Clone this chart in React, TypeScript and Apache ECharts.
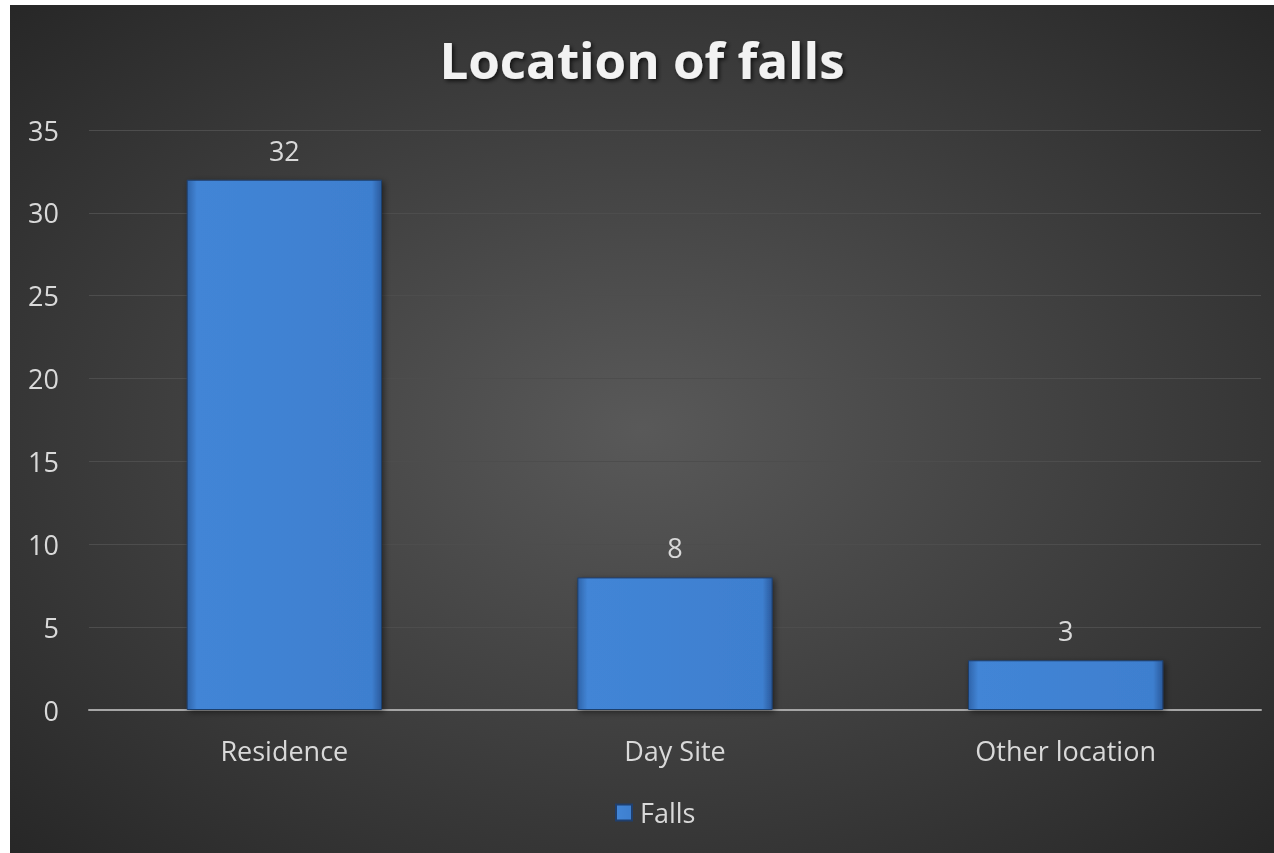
import React, { useEffect, useRef } from "react";
import * as echarts from "echarts";

const categories = ["Residence", "Day Site", "Other location"];
const fallsValues = [32, 8, 3];
const seriesName = "Falls";
const titleText = "Location of falls";

export default function App() {
  const ref = useRef<HTMLDivElement>(null);
  useEffect(() => {
    if (!ref.current) return;
    const chart = echarts.init(ref.current, null, { renderer: "svg" });
    const font = "'Open Sans', 'Noto Sans', sans-serif";
    chart.setOption({
      animation: false,
      backgroundColor: {
        type: "radial",
        x: 0.5,
        y: 0.5,
        r: 0.75,
        colorStops: [
          { offset: 0, color: "#595959" },
          { offset: 1, color: "#242424" },
        ],
      },
      title: {
        text: titleText,
        left: "center",
        top: 23,
        textStyle: {
          color: "#f2f2f2",
          fontFamily: font,
          fontWeight: "bold",
          fontSize: 51,
          textShadowColor: "rgba(0,0,0,0.7)",
          textShadowBlur: 4,
          textShadowOffsetX: 2,
          textShadowOffsetY: 2,
        },
      },
      legend: {
        bottom: 22,
        left: 600,
        itemWidth: 16,
        itemHeight: 16,
        itemGap: 10,
        icon: "rect",
        textStyle: { color: "#d9d9d9", fontFamily: font, fontSize: 27, padding: [0, 0, 0, 3] },
        data: [seriesName],
      },
      grid: { left: 79, right: 13, top: 125, bottom: 143, containLabel: false },
      xAxis: {
        type: "category",
        data: categories,
        axisLine: { lineStyle: { color: "#a6a6a6", width: 2 } },
        axisTick: { show: false },
        axisLabel: { color: "#d9d9d9", fontFamily: font, fontSize: 27, margin: 27 },
      },
      yAxis: {
        type: "value",
        min: 0,
        max: 35,
        interval: 5,
        axisLine: { show: false },
        axisTick: { show: false },
        axisLabel: { color: "#d9d9d9", fontFamily: font, fontSize: 27, margin: 30 },
        splitLine: { lineStyle: { color: "#4d4d4d", width: 1 } },
      },
      series: [
        {
          name: seriesName,
          type: "bar",
          data: fallsValues,
          barWidth: "50%",
          itemStyle: {
            color: {
              type: "linear",
              x: 0,
              y: 0,
              x2: 1,
              y2: 0,
              colorStops: [
                { offset: 0, color: "#2f64aa" },
                { offset: 0.05, color: "#4285d6" },
                { offset: 0.95, color: "#3e7fcf" },
                { offset: 1, color: "#2a5a9c" },
              ],
            },
            borderColor: "#1f3f6e",
            borderWidth: 1,
            shadowColor: "rgba(0,0,0,0.5)",
            shadowBlur: 6,
            shadowOffsetX: 2,
            shadowOffsetY: 2,
          },
          label: {
            show: true,
            position: "top",
            distance: 16,
            color: "#d9d9d9",
            fontFamily: font,
            fontSize: 27,
          },
        },
      ],
    });
    return () => chart.dispose();
  }, []);
  return (
    <div
      ref={ref}
      style={{ position: "fixed", left: 10, top: 5, width: 1264, height: 848 }}
    />
  );
}
